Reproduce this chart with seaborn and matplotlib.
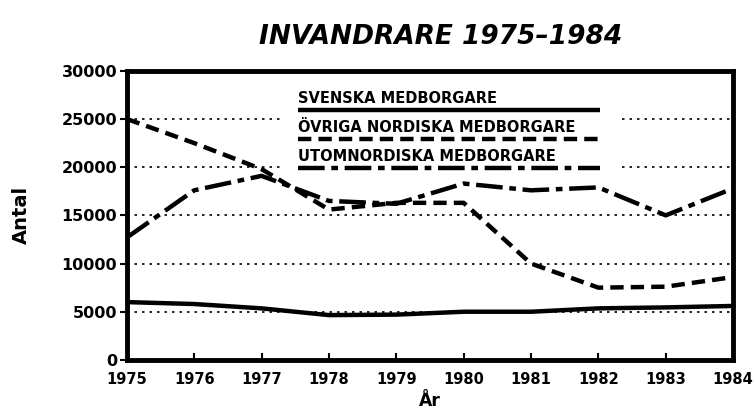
import matplotlib
matplotlib.use("Agg")
import matplotlib.pyplot as plt
import seaborn as sns
import pandas as pd

years = [1975, 1976, 1977, 1978, 1979, 1980, 1981, 1982, 1983, 1984]
svenska = [6000, 5800, 5350, 4650, 4700, 5000, 5000, 5350, 5450, 5600]
ovriga = [25000, 22500, 19800, 15600, 16300, 16300, 10000, 7500, 7600, 8600]
utomnordiska = [12700, 17600, 19100, 16500, 16200, 18300, 17600, 17900, 15000, 17800]
series_names = ["SVENSKA MEDBORGARE", "ÖVRIGA NORDISKA MEDBORGARE", "UTOMNORDISKA MEDBORGARE"]
yticks = [0, 5000, 10000, 15000, 20000, 25000, 30000]

df = pd.DataFrame({
    "År": years * 3,
    "Antal": svenska + ovriga + utomnordiska,
    "Serie": [series_names[0]] * 10 + [series_names[1]] * 10 + [series_names[2]] * 10,
})

sns.set_style("white")
plt.rcParams["font.family"] = ["DejaVu Sans"]
plt.rcParams["text.color"] = "black"
plt.rcParams["axes.labelcolor"] = "black"
plt.rcParams["xtick.color"] = "black"
plt.rcParams["ytick.color"] = "black"

fig = plt.figure(figsize=(7.55, 4.19), dpi=100)
ax = fig.add_axes([0.168, 0.141, 0.803, 0.690])

styles = {
    series_names[0]: (0, ()),
    series_names[1]: (0, (3, 1.6)),
    series_names[2]: (0, (6, 1.5, 1.5, 1.5)),
}
for name in series_names:
    sub = df[df["Serie"] == name]
    sns.lineplot(data=sub, x="År", y="Antal", ax=ax, color="black", lw=3.2,
                 linestyle=styles[name], legend=False, zorder=4)

ax.set_xlim(1975, 1984)
ax.set_ylim(0, 30000)
ax.set_xticks(years)
ax.set_xticklabels([str(y) for y in years], fontweight="bold", fontsize=10.5)
ax.set_yticks(yticks)
ax.set_yticklabels([str(v) for v in yticks], fontweight="bold", fontsize=11.5)
for v in yticks[1:-1]:
    ax.axhline(v, color="black", lw=1.2, linestyle=(0, (1.5, 3)), zorder=1)

ax.tick_params(axis="y", direction="out", length=5, width=1.5, pad=2, left=True)
ax.tick_params(axis="x", direction="in", length=5, width=1.5, pad=9, bottom=True)
for s in ax.spines.values():
    s.set_linewidth(3.5)
    s.set_color("black")

ax.set_xlabel("År", fontweight="bold", fontsize=12.5, labelpad=3)
ax.set_ylabel("Antal", fontweight="bold", fontsize=14, labelpad=22)

# legend block
ax.add_patch(plt.Rectangle((0.252, 0.64), 0.557, 0.31, transform=ax.transAxes,
                           facecolor="white", edgecolor="none", zorder=2))
leg_y = [0.865, 0.765, 0.664]
for name, yy in zip(series_names, leg_y):
    ax.text(0.282, yy + 0.012, name, transform=ax.transAxes, fontsize=10.5,
            fontweight="bold", ha="left", va="bottom", zorder=5)
    ax.plot([0.282, 0.781], [yy, yy], transform=ax.transAxes, color="black",
            lw=3.2, linestyle=styles[name], zorder=5)

fig.text(0.584, 0.912, "INVANDRARE 1975–1984", ha="center", va="center",
         fontsize=19, fontstyle="italic", fontweight="bold")

fig.savefig("out.png", dpi=100)
